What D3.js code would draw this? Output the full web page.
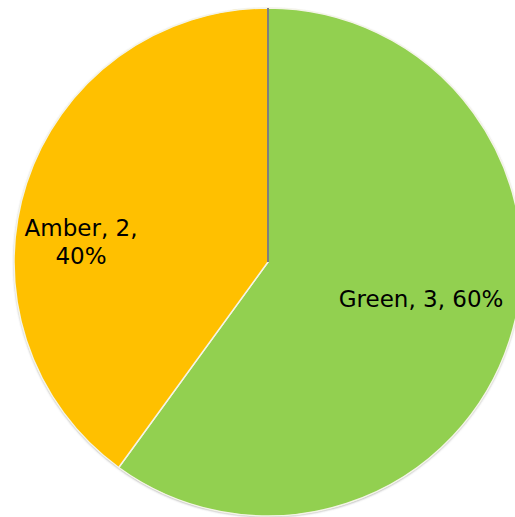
<!DOCTYPE html>
<html lang="en">
<head>
  <meta charset="UTF-8" />
  <title>Status Pie</title>
  <script src="https://d3js.org/d3.v7.min.js"></script>
  <style>
    html, body { margin: 0; padding: 0; background: #fff; }
    #pie { display: block; }
    .lbl { font-family: "DejaVu Sans", Verdana, sans-serif; font-size: 23px; fill: #000; }
  </style>
</head>
<body>
  <svg id="pie" width="515" height="517"></svg>

  <script>
    const categories = ["Green", "Amber"];
    const counts = [3, 2];
    const colors = ["#92d050", "#ffc000"];

    const width = 515;
    const height = 517;
    const cx = 268, cy = 262, radius = 254;

    // label placement (angle offset in deg, distance as fraction of radius), tuned by eye
    const labelPlace = [
      { r: 0.62, dAngle: -4.4, lines: 1 },
      { r: 0.74, dAngle: -12.2, lines: 2 }
    ];

    const svg = d3.select("#pie");

    const defs = svg.append("defs");
    const f = defs.append("filter").attr("id", "shadow")
      .attr("x", "-10%").attr("y", "-10%").attr("width", "120%").attr("height", "120%");
    f.append("feDropShadow")
      .attr("dx", 0).attr("dy", 1)
      .attr("stdDeviation", 1.2)
      .attr("flood-color", "#555")
      .attr("flood-opacity", 0.55);

    const data = categories.map((c, i) => ({ name: c, value: counts[i], color: colors[i] }));
    const total = d3.sum(counts);

    const pie = d3.pie().sort(null).value(d => d.value);
    const arc = d3.arc().innerRadius(0).outerRadius(radius);

    const g = svg.append("g").attr("transform", `translate(${cx},${cy})`);

    g.append("circle").attr("r", radius).attr("fill", "#fff").attr("filter", "url(#shadow)");

    const arcs = pie(data);

    g.selectAll("path.slice")
      .data(arcs)
      .enter().append("path")
      .attr("class", "slice")
      .attr("d", arc)
      .attr("fill", d => d.data.color)
      .attr("stroke", "#f4f4e8")
      .attr("stroke-width", 1.5);

    // grey divider at the start angle
    g.append("line")
      .attr("x1", 0).attr("y1", 0)
      .attr("x2", 0).attr("y2", -radius)
      .attr("stroke", "#7f7f7f")
      .attr("stroke-width", 2);

    arcs.forEach((a, i) => {
      const p = labelPlace[i];
      const mid = (a.startAngle + a.endAngle) / 2 + p.dAngle * Math.PI / 180;
      const x = Math.sin(mid) * radius * p.r;
      const y = -Math.cos(mid) * radius * p.r;
      const pct = Math.round(a.data.value / total * 100) + "%";
      const t = g.append("text").attr("class", "lbl")
        .attr("text-anchor", "middle")
        .attr("x", x).attr("y", y);
      if (p.lines === 1) {
        t.append("tspan").attr("x", x).attr("dy", "0.35em")
          .text(`${a.data.name}, ${a.data.value}, ${pct}`);
      } else {
        t.append("tspan").attr("x", x).attr("dy", "-0.3em")
          .text(`${a.data.name}, ${a.data.value},`);
        t.append("tspan").attr("x", x).attr("dy", "1.22em")
          .text(pct);
      }
    });
  </script>
</body>
</html>
